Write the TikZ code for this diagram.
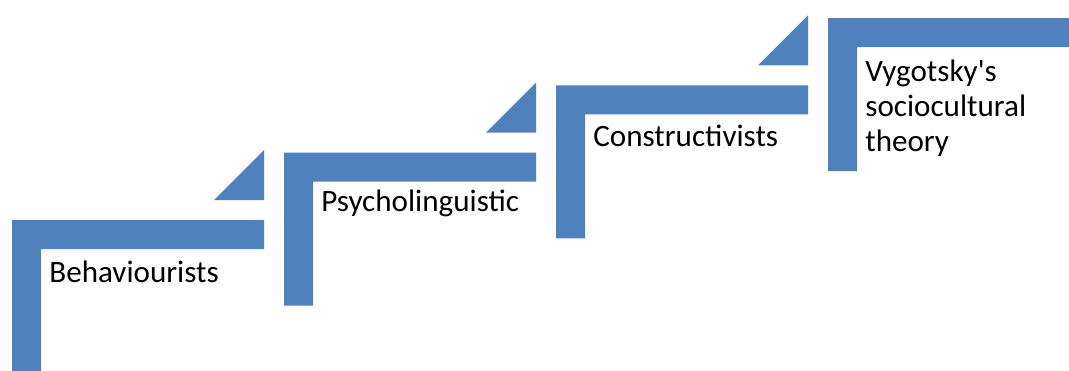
\documentclass[tikz,border=0pt]{standalone}
\usepackage{fontspec}
\setmainfont{Carlito}
\definecolor{stepblue}{HTML}{4F81BD}

\begin{document}
\begin{tikzpicture}[x=0.02cm, y=-0.02cm,
    stepfill/.style={fill=stepblue},
    steplabel/.style={anchor=base west, align=left, inner sep=0pt, font=\fontsize{17.7}{19.9}\selectfont}]
        \clip (0, 0) rectangle (1069, 370);

        % \lastbase: baseline of the last text line below the step corner
        \foreach \i / \stepname / \lastbase / \steptext in {0/behav/62/Behaviourists, 1/psych/59/Psycholinguistic, 2/constr/61/Constructivists, 3/vygot/133/{Vygotsky\textquotesingle s\\sociocultural\\theory}}{
          \coordinate (\stepname) at ({12 + 272 * \i}, {220 - 67.3 * \i});
          \fill [stepfill] (\stepname) -- ++(252, 0) -- ++(0, 29) -- ++(-223, 0) -- ++(0, 124) -- ++(-29, 0) -- cycle;
          \node [steplabel] (\stepname-text) at ([shift={(37, \lastbase)}]\stepname) {\steptext};
        }

        % small corner triangles
        \foreach \stepname in {behav, psych, constr}{
          \fill [stepfill] ([shift={(252, -20)}]\stepname) -- ++(-50, 0) -- ++(50, -50) -- cycle;
        }
      \end{tikzpicture}
\end{document}
